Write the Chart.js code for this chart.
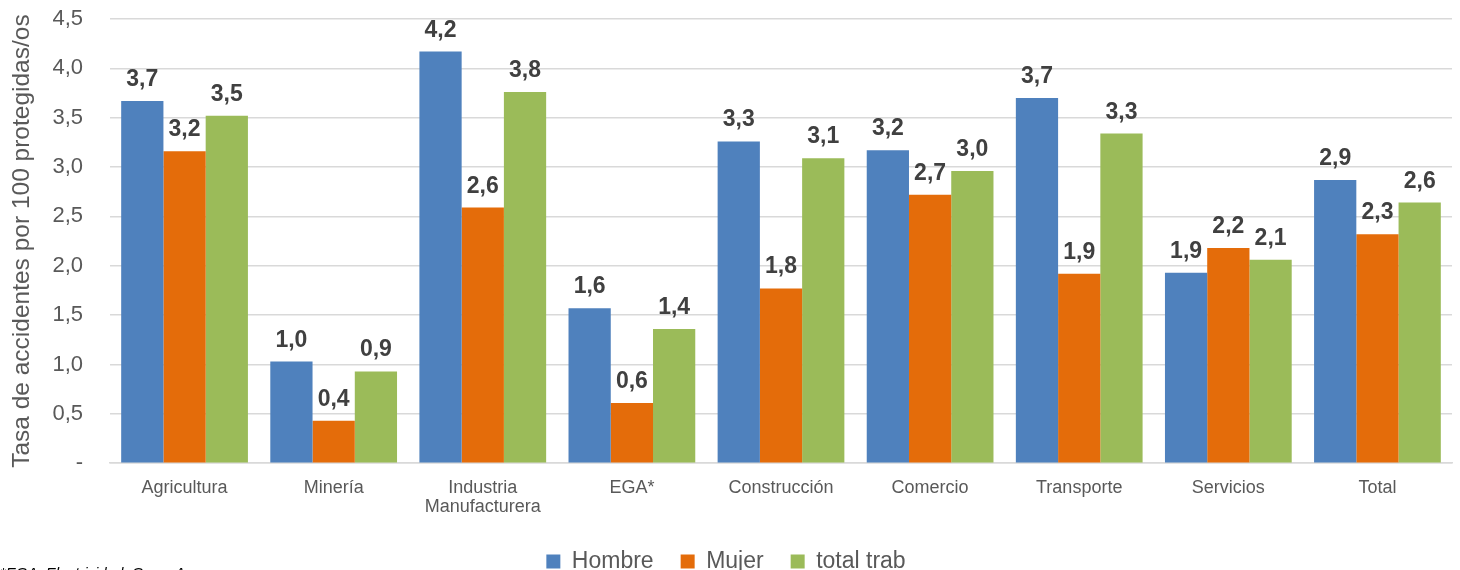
<!DOCTYPE html>
<html>
<head>
<meta charset="utf-8">
<script src="https://cdn.jsdelivr.net/npm/chart.js@4/dist/chart.umd.min.js"></script>
<style>
html,body{margin:0;padding:0;background:#fff;}
#wrap{width:1460px;height:570px;position:relative;overflow:hidden;}
</style>
</head>
<body>
<div id="wrap"><canvas id="c" width="1460" height="570"></canvas></div>
<script>
const categories = [["Agricultura"],["Minería"],["Industria","Manufacturera"],["EGA*"],["Construcción"],["Comercio"],["Transporte"],["Servicios"],["Total"]];
const hombre = [3.67, 1.03, 4.17, 1.57, 3.26, 3.17, 3.70, 1.93, 2.87];
const mujer = [3.16, 0.43, 2.59, 0.61, 1.77, 2.72, 1.92, 2.18, 2.32];
const totalTrab = [3.52, 0.93, 3.76, 1.36, 3.09, 2.96, 3.34, 2.06, 2.64];
const seriesNames = ["Hombre", "Mujer", "total trab"];
const yTicks = [0, 0.5, 1, 1.5, 2, 2.5, 3, 3.5, 4, 4.5];
const footnote = "*EGA: Electricidad, Gas y Agua";

const FONT = "'Liberation Sans', Arial, sans-serif";
const fmt = v => v === 0 ? "-" : v.toFixed(1).replace(".", ",");

const labelPlugin = {
  id: "barLabels",
  afterDatasetsDraw(chart) {
    const ctx = chart.ctx;
    ctx.save();
    ctx.font = "bold 23px " + FONT;
    ctx.fillStyle = "#404040";
    ctx.textAlign = "center";
    ctx.textBaseline = "alphabetic";
    chart.data.datasets.forEach((ds, i) => {
      const meta = chart.getDatasetMeta(i);
      meta.data.forEach((bar, j) => {
        ctx.fillText(fmt(ds.data[j]), bar.x, bar.y - 15);
      });
    });
    ctx.restore();
  }
};

const footPlugin = {
  id: "foot",
  afterDraw(chart) {
    const ctx = chart.ctx;
    ctx.save();
    ctx.font = "italic 15px " + FONT;
    ctx.fillStyle = "#000";
    ctx.textAlign = "left";
    ctx.textBaseline = "top";
    ctx.fillText(footnote, 0, 566);
    ctx.restore();
  }
};

new Chart(document.getElementById("c"), {
  type: "bar",
  data: {
    labels: categories,
    datasets: [
      {label: seriesNames[0], data: hombre, backgroundColor: "#4f81bd", borderWidth: 0},
      {label: seriesNames[1], data: mujer, backgroundColor: "#e46c0a", borderWidth: 0},
      {label: seriesNames[2], data: totalTrab, backgroundColor: "#9bbb59", borderWidth: 0}
    ]
  },
  options: {
    responsive: false,
    animation: false,
    layout: {padding: {left: 0, right: 8, top: 19, bottom: -13}},
    datasets: {bar: {categoryPercentage: 0.85, barPercentage: 1.0}},
    plugins: {
      legend: {
        position: "bottom",
        labels: {
          font: {size: 23, family: FONT},
          color: "#595959",
          boxWidth: 14, boxHeight: 14, padding: 27
        }
      },
      tooltip: {enabled: false}
    },
    scales: {
      x: {
        grid: {display: false},
        border: {color: "#d9d9d9", width: 1.5},
        ticks: {
          font: {size: 18, family: FONT, lineHeight: 1.05},
          color: "#595959", maxRotation: 0, padding: 7
        }
      },
      y: {
        min: 0, max: 4.5,
        afterBuildTicks: axis => { axis.ticks = yTicks.map(v => ({value: v})); },
        afterFit: axis => { axis.width = 110; },
        grid: {color: "#d9d9d9", lineWidth: 1.5, drawTicks: true, tickLength: 27, tickColor: "rgba(0,0,0,0)"},
        border: {display: false},
        ticks: {
          callback: v => fmt(v),
          font: {size: 22, family: FONT},
          color: "#595959", padding: 0
        },
        title: {
          display: true,
          text: "Tasa de accidentes por 100 protegidas/os",
          font: {size: 24.5, family: FONT},
          color: "#595959", padding: {top: 8, bottom: 0}
        }
      }
    }
  },
  plugins: [labelPlugin, footPlugin]
});
</script>
</body>
</html>
